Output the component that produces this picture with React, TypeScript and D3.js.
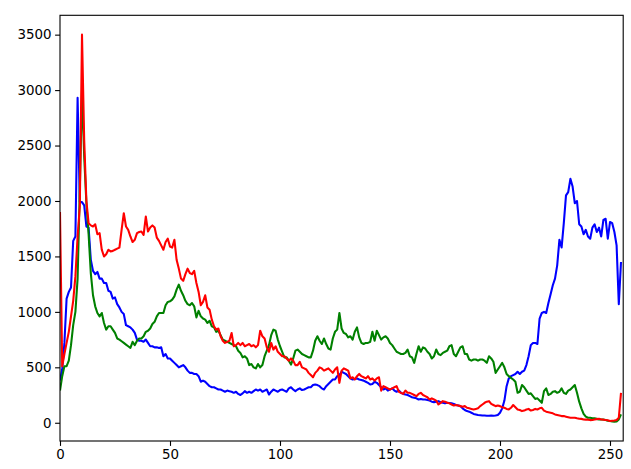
import React, { useEffect, useRef } from "react";
import * as d3 from "d3";

const blueValues: number[] = [
  380, 480, 720, 1120, 1180, 1220, 1640, 1680, 2930, 1990, 1990, 1960, 1770, 1760, 1470, 1370,
  1340, 1360, 1300, 1300, 1260, 1260, 1190, 1180, 1120, 1130, 1070, 1040, 1000, 980, 880, 870,
  860, 840, 810, 750, 740, 740, 730, 750, 720, 690, 690, 680, 680, 675, 680, 600,
  620, 580, 580, 560, 540, 520, 500, 510, 520, 500, 470, 450, 450, 440, 440, 420,
  370, 380, 370, 350, 330, 320, 320, 310, 300, 300, 290, 280, 290, 285, 280, 270,
  280, 260, 250, 265, 285, 270, 280, 270, 285, 300, 290, 300, 280, 290, 300, 255,
  280, 300, 290, 280, 295, 300, 290, 280, 310, 320, 300, 285, 300, 310, 295, 300,
  310, 320, 320, 340, 345, 340, 330, 310, 300, 330, 350, 370, 390, 390, 420, 430,
  460, 450, 440, 420, 400, 390, 395, 400, 390, 385, 380, 370, 360, 345, 350, 370,
  360, 340, 320, 300, 310, 290, 300, 310, 290, 280, 290, 270, 260, 255, 250, 240,
  230, 225, 220, 210, 215, 210, 210, 205, 200, 190, 186, 190, 195, 185, 180, 175,
  180, 178, 175, 170, 160, 155, 150, 130, 115, 105, 100, 90, 80, 75, 70, 68,
  65, 65, 63, 63, 65, 63, 65, 70, 90, 130, 200, 330, 400, 420, 430, 440,
  460, 440, 460, 470, 520, 600, 700, 720, 720, 710, 940, 990, 1000, 990, 1080, 1160,
  1240, 1300, 1420, 1650, 1580, 1800, 2050, 2080, 2200, 2130, 1980, 2000, 1790, 1770, 1700, 1740,
  1680, 1660, 1760, 1790, 1720, 1760, 1680, 1830, 1840, 1660, 1810, 1800, 1720, 1600, 1070, 1450,
];

const greenValues: number[] = [
  290, 420, 510, 510, 560, 700, 880, 1000, 1300, 2100, 3000, 2400, 1980, 1700, 1350, 1150,
  1050, 990, 960, 990, 900, 840, 870, 870, 840, 810, 760, 750, 735, 720, 705, 690,
  675, 730, 700, 740, 760, 760, 780, 820, 830, 850, 890, 910, 960, 990, 990, 990,
  1060, 1090, 1095, 1110, 1140, 1200, 1245, 1190, 1150, 1100, 1070, 1060, 1080, 1050, 950, 1010,
  960, 940, 930, 900, 920, 870, 860, 820, 830, 790, 750, 740, 730, 720, 710, 700,
  690, 650, 630, 590, 600, 580, 520, 530, 500, 490, 530, 500, 520, 600, 650, 700,
  790, 840, 830, 750, 690, 640, 590, 590, 560, 525, 580, 650, 660, 640, 620, 610,
  600, 590, 590, 650, 740, 780, 740, 710, 760, 710, 670, 660, 760, 820, 840, 990,
  850, 810, 800, 770, 780, 750, 820, 860, 770, 720, 710, 720, 720, 730, 820, 740,
  830, 790, 750, 770, 780, 760, 720, 700, 670, 640, 630, 620, 620, 630, 660, 600,
  590, 540, 620, 690, 640, 680, 670, 640, 620, 580, 600, 660, 620, 610, 630, 640,
  650, 690, 700, 620, 600, 640, 680, 690, 620, 620, 570, 560, 570, 570, 560, 570,
  570, 560, 540, 600, 580, 550, 450, 480, 510, 540, 500, 440, 420, 405, 390, 370,
  270, 280, 340, 320, 290, 260, 265, 240, 215, 220, 200, 180, 285, 310, 250, 260,
  280, 285, 270, 280, 310, 270, 260, 290, 300, 320, 340, 270, 190, 130, 80, 55,
  45, 45, 40, 40, 35, 30, 30, 30, 25, 18, 15, 12, 10, 12, 30, 75,
];

const redValues: number[] = [
  1900, 510, 620, 720, 820, 960, 1100, 1320, 1680, 1950, 3500, 2550, 2000, 1800, 1780, 1770,
  1790, 1700, 1710, 1560, 1500, 1520, 1560, 1545, 1550, 1560, 1570, 1580, 1740, 1890, 1770, 1740,
  1680, 1630, 1650, 1710, 1720, 1725, 1695, 1860, 1725, 1760, 1780, 1760, 1670, 1640, 1600, 1560,
  1630, 1660, 1590, 1580, 1650, 1470, 1390, 1300, 1280, 1340, 1390, 1350, 1340, 1370, 1260, 1180,
  1060, 1090, 1150, 1040, 1020, 930, 870, 840, 850, 780, 740, 720, 730, 740, 810, 690,
  700, 720, 700, 720, 690, 700, 710, 690, 700, 680, 700, 830, 780, 760, 680, 640,
  720, 660, 690, 640, 620, 600, 600, 580, 560, 580, 560, 520, 520, 550, 500, 490,
  480, 450, 430, 410, 450, 470, 500, 490, 470, 480, 490, 470, 450, 480, 500, 360,
  470, 490, 480, 470, 400, 410, 390, 420, 440, 420, 410, 400, 420, 390, 400, 380,
  400, 410, 290, 330, 320, 310, 300, 310, 320, 330, 280, 270, 260, 290, 270, 270,
  260, 250, 240, 260, 270, 250, 240, 230, 210, 220, 210, 200, 165, 180, 195, 190,
  180, 175, 165, 155, 160, 155, 150, 145, 150, 135, 130, 125, 120, 125, 130, 150,
  165, 180, 190, 195, 170, 160, 150, 155, 150, 140, 135, 125, 120, 135, 160, 140,
  120, 115, 105, 110, 120, 125, 110, 115, 125, 120, 130, 135, 110, 100, 95, 90,
  85, 75, 70, 65, 60, 60, 55, 50, 45, 45, 45, 40, 36, 35, 30, 28,
  28, 24, 25, 30, 33, 36, 30, 28, 25, 22, 15, 18, 20, 25, 45, 270,
];

const xTicks: number[] = [0, 50, 100, 150, 200, 250];
const yTicks: number[] = [0, 500, 1000, 1500, 2000, 2500, 3000, 3500];

const series = [
  { name: "b", values: blueValues, color: "#0000ff" },
  { name: "g", values: greenValues, color: "#008000" },
  { name: "r", values: redValues, color: "#ff0000" },
];

const W = 631;
const H = 469;
const left = 60;
const right = 623.2;
const top = 15.3;
const bottom = 441;

export default function App() {
  const ref = useRef<SVGSVGElement>(null);

  useEffect(() => {
    document.body.style.margin = "0";
    const svg = d3.select(ref.current);
    svg.selectAll("*").remove();

    const all = series.flatMap((s) => s.values);
    const [mn, mx] = d3.extent(all) as [number, number];
    const pad = (mx - mn) * 0.05;

    const x = d3.scaleLinear().domain([0, 256]).range([left, right]);
    const y = d3.scaleLinear().domain([mn - pad, mx + pad]).range([bottom, top]);

    svg
      .append("defs")
      .append("clipPath")
      .attr("id", "plotclip")
      .append("rect")
      .attr("x", left)
      .attr("y", top)
      .attr("width", right - left)
      .attr("height", bottom - top);

    const line = d3
      .line<number>()
      .x((_, i) => x(i))
      .y((d) => y(d));

    const g = svg.append("g").attr("clip-path", "url(#plotclip)");
    series.forEach((s) => {
      g.append("path")
        .datum(s.values)
        .attr("d", line)
        .attr("fill", "none")
        .attr("stroke", s.color)
        .attr("stroke-width", 2.08)
        .attr("stroke-linejoin", "round")
        .attr("stroke-linecap", "butt");
    });

    const fontFamily = "'DejaVu Sans', sans-serif";

    const xAxis = d3
      .axisBottom(x)
      .tickValues(xTicks)
      .tickSize(4.9)
      .tickPadding(3.5)
      .tickFormat((d) => String(d));
    const xa = svg.append("g").attr("transform", `translate(0,${bottom})`).call(xAxis);
    xa.select(".domain").remove();

    const yAxis = d3
      .axisLeft(y)
      .tickValues(yTicks)
      .tickSize(4.9)
      .tickPadding(3.5)
      .tickFormat((d) => String(d));
    const ya = svg.append("g").attr("transform", `translate(${left},0)`).call(yAxis);
    ya.select(".domain").remove();

    [xa, ya].forEach((a) => {
      a.selectAll("line").attr("stroke", "#000").attr("stroke-width", 1.1);
      a.selectAll("text")
        .attr("fill", "#000")
        .style("font-family", fontFamily)
        .style("font-size", "13.4px");
    });

    svg
      .append("rect")
      .attr("x", left)
      .attr("y", top)
      .attr("width", right - left)
      .attr("height", bottom - top)
      .attr("fill", "none")
      .attr("stroke", "#000")
      .attr("stroke-width", 1.1);
  }, []);

  return (
    <div style={{ position: "absolute", left: 0, top: 0 }}>
      <svg ref={ref} width={W} height={H} style={{ display: "block", background: "#fff" }} />
    </div>
  );
}
